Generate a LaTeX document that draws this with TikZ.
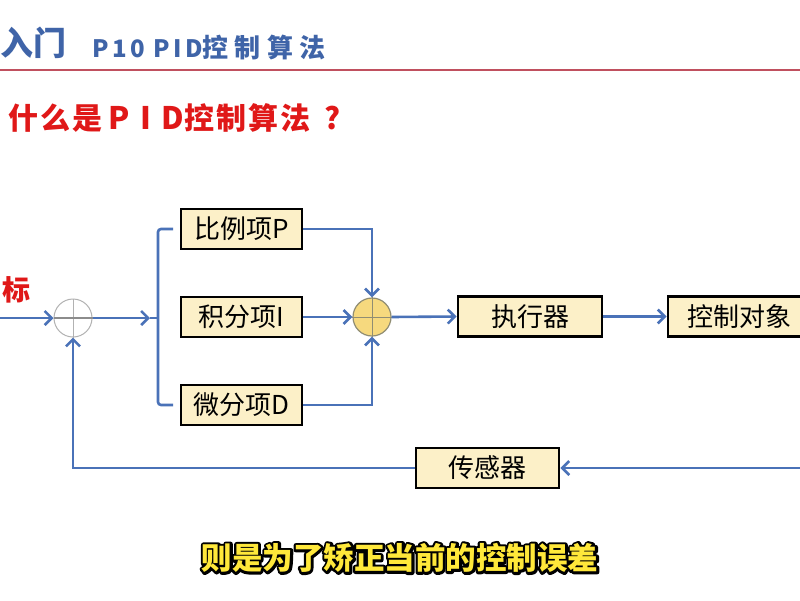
\documentclass[tikz,border=0pt]{standalone}
\usepackage{fontspec}
\usetikzlibrary{arrows.meta}
\newfontfamily\cjk{Noto Sans CJK SC}
\newfontfamily\cjkhl[LetterSpace=14]{Noto Sans CJK SC}
\newfontfamily\cjkhc[LetterSpace=24]{Noto Sans CJK SC}
\newfontfamily\cjktc[LetterSpace=7]{Noto Sans CJK SC}
\newfontfamily\cjktl[LetterSpace=34]{Noto Sans CJK SC}
\definecolor{lineblue}{HTML}{4A72B8}
\definecolor{hblue}{HTML}{3F64A8}
\definecolor{tred}{HTML}{E01818}
\definecolor{hline}{HTML}{C0505F}
\definecolor{boxfill}{HTML}{FCF0C8}
\definecolor{sumfill}{HTML}{F6D97E}
\definecolor{subyel}{HTML}{FFE83A}
\newcommand{\outlinetext}[1]{\rlap{\special{pdf:literal direct 1 j 5 w 0 0 0 RG 1 Tr}#1\special{pdf:literal direct 0 Tr}}#1}
\begin{document}
\begin{tikzpicture}[x=1pt,y=-1pt,
  ln/.style={draw=lineblue,line width=2.6pt},
  arr/.style={ln,-{Straight Barb[length=7pt,width=14pt]}},
  blk/.style={draw=black,line width=2.8pt,fill=boxfill,minimum width=121pt,minimum height=40pt,inner sep=0pt,font=\cjk\fontsize{26}{26}\selectfont},
  sumw/.style={circle,draw=gray!60,line width=1pt,fill=white,minimum size=38pt,inner sep=0pt},
  sumy/.style={circle,draw=gray!80!olive,line width=1.2pt,fill=sumfill,minimum size=38pt,inner sep=0pt}]
\useasboundingbox (0,0) rectangle (800,600);
\fill[white] (0,0) rectangle (800,600);
% header
\draw[hline,line width=2.4pt] (0,70) -- (800,70);
\node[anchor=west,inner sep=0pt,text=hblue,font=\cjk\bfseries\fontsize{33}{33}\selectfont] (hd1) at (0,43) {入门};
\node[anchor=west,inner sep=0pt,text=hblue,font=\bfseries\fontsize{26}{26}\selectfont] (hd2) at (92,47) {{\cjkhl\fontsize{24}{24}\selectfont P10 PID}{\cjkhc 控制算法}};
\node[anchor=west,inner sep=0pt,text=tred,font=\bfseries\fontsize{30}{30}\selectfont] (title) at (8,118) {{\cjktc 什么是}\hspace{6pt}{\cjktl\fontsize{31}{31}\selectfont PID}{\cjktc 控制算法}\hspace{14pt}{\cjk ?}};
\node[anchor=west,inner sep=0pt,text=tred,font=\cjk\bfseries\fontsize{28}{28}\selectfont] (biao) at (2,290) {标};
% blocks
\node[sumw] (s1) at (73,318) {};
\draw[gray!60,line width=1pt] (s1.north) -- (s1.south);
\draw[gray!90,line width=1.4pt] (s1.west) -- (s1.east);
\node[sumy] (s2) at (372,317) {};
\draw[gray!80!olive,line width=0.8pt] (s2.north) -- (s2.south) (s2.west) -- (s2.east);
\node[blk] (P) at (241.5,229) {比例项P};
\node[blk] (I) at (241.5,317) {积分项I};
\node[blk] (D) at (241.5,405) {微分项D};
\node[blk,minimum width=144pt] (exe) at (530,316.5) {执行器};
\node[blk,minimum width=142pt] (obj) at (739,316.5) {控制对象};
\node[blk,minimum width=143pt] (sens) at (487.5,468) {传感器};
% connectors
\coordinate (in) at (0,318);
\coordinate (brm) at (150,318);
\coordinate (brc) at (158,318);
\coordinate (brt) at (173,229);
\coordinate (brb) at (173,405);
\coordinate (fb) at (800,468);
\draw[arr] (in) -- (s1.west);
\draw[arr] (s1.east) -- (brm);
\draw[ln] (brm) -- (brc);
\draw[ln,rounded corners=3pt] (brt) -- (158,229) -- (158,405) -- (brb);
\draw[arr] (P.east) -| (s2.north);
\draw[arr] (I.east) -- (s2.west);
\draw[arr] (D.east) -| (s2.south);
\draw[arr] (s2.east) -- (exe.west);
\draw[arr] (exe.east) -- (obj.west);
\draw[arr] (fb) -- (sens.east);
\draw[arr] (sens.west) -| (s1.south);
% subtitle
\node[inner sep=0pt,text=subyel,font=\cjk\bfseries\fontsize{30.5}{30}\selectfont] (sub) at (400,558) {\outlinetext{则是为了矫正当前的控制误差}};
\end{tikzpicture}
\end{document}
